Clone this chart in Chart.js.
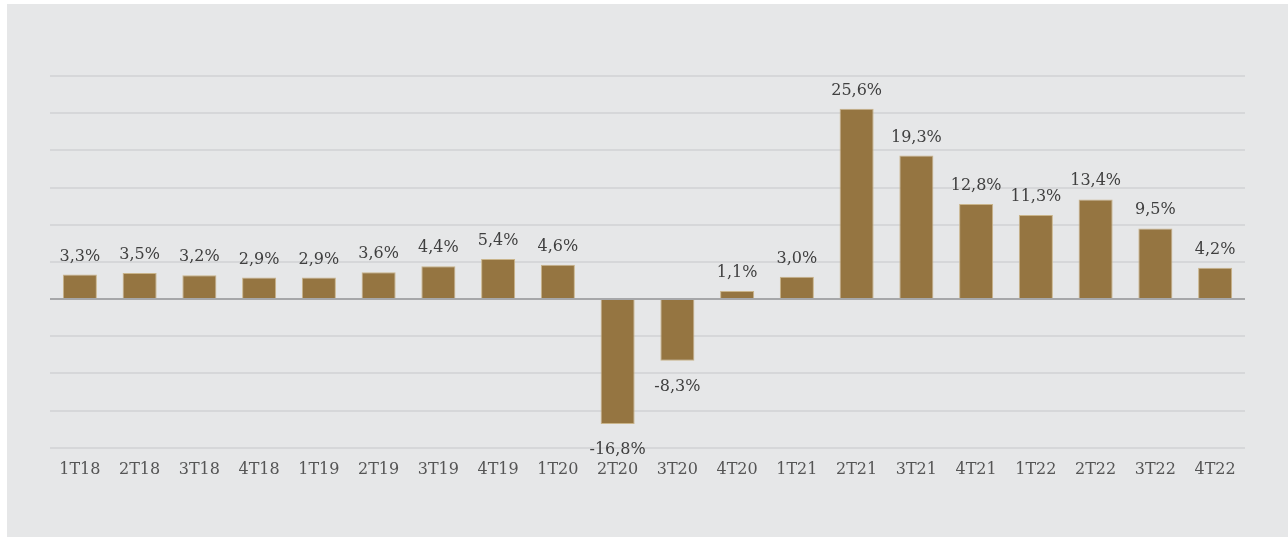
<!DOCTYPE html>
<html>
<head>
<meta charset="utf-8">
<script src="https://cdn.jsdelivr.net/npm/chart.js@4/dist/chart.umd.min.js"></script>
<style>
  html, body { margin:0; padding:0; background:#fff; }
  #wrap { position:absolute; left:7px; top:4px; width:1281px; height:533px; background:#e6e7e8; }
</style>
</head>
<body>
<div id="wrap"><canvas id="chart"></canvas></div>
<script>
const quarters = ['1T18','2T18','3T18','4T18','1T19','2T19','3T19','4T19','1T20','2T20',
                  '3T20','4T20','1T21','2T21','3T21','4T21','1T22','2T22','3T22','4T22'];
const growth   = [3.3, 3.5, 3.2, 2.9, 2.9, 3.6, 4.4, 5.4, 4.6, -16.8,
                  -8.3, 1.1, 3.0, 25.6, 19.3, 12.8, 11.3, 13.4, 9.5, 4.2];

const fmt = v => v.toFixed(1).replace('.', ',') + '%';
const FONT = '"DejaVu Serif", Cambria, serif';

// value labels above / below each bar
const barLabels = {
  id: 'barLabels',
  afterDatasetsDraw(chart) {
    const ctx = chart.ctx;
    const meta = chart.getDatasetMeta(0);
    ctx.save();
    ctx.font = '16px ' + FONT;
    ctx.fillStyle = '#404040';
    ctx.textAlign = 'center';
    meta.data.forEach((bar, i) => {
      const v = growth[i];
      if (v >= 0) {
        ctx.textBaseline = 'alphabetic';
        ctx.fillText(fmt(v), bar.x, bar.y - 14);
      } else {
        ctx.textBaseline = 'top';
        ctx.fillText(fmt(v), bar.x, bar.y + 18);
      }
    });
    ctx.restore();
  }
};

new Chart(document.getElementById('chart'), {
  type: 'bar',
  data: {
    labels: quarters,
    datasets: [{
      data: growth,
      backgroundColor: '#957541',
      borderColor: '#c9b48a',
      borderWidth: 1,
      categoryPercentage: 1,
      barPercentage: 0.57
    }]
  },
  options: {
    responsive: true,
    maintainAspectRatio: false,
    animation: false,
    layout: { padding: { left: 43, right: 43, top: 72, bottom: 46 } },
    plugins: { legend: { display: false }, tooltip: { enabled: false } },
    scales: {
      x: {
        grid: { display: false, drawTicks: false },
        border: { display: false },
        ticks: { color: '#555555', font: { family: FONT, size: 16 }, padding: 12, maxRotation: 0 }
      },
      y: {
        min: -20, max: 30,
        grid: {
          drawTicks: false,
          color: c => c.tick.value === 0 ? '#a6a7a9' : '#d6d7d9',
          lineWidth: c => 2
        },
        border: { display: false },
        ticks: { display: false, stepSize: 5 }
      }
    }
  },
  plugins: [barLabels]
});
</script>
</body>
</html>
